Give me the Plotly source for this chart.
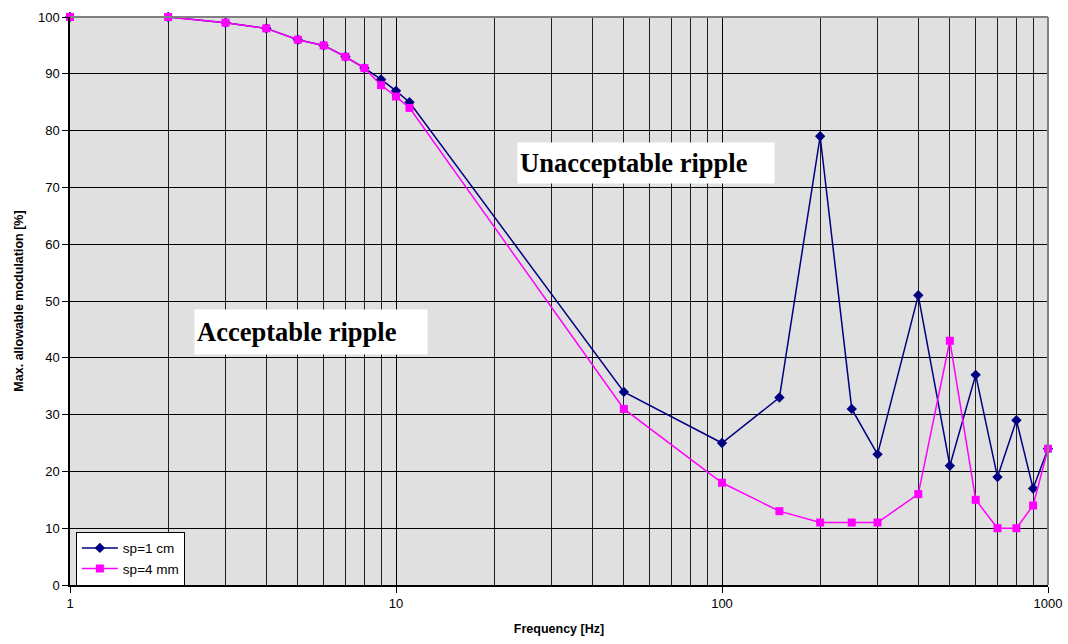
import plotly.graph_objects as go

# Frequency points [Hz]
freq = [1, 2, 3, 4, 5, 6, 7, 8, 9, 10, 11, 50, 100, 150, 200, 250, 300,
        400, 500, 600, 700, 800, 900, 1000]

# Maximum allowable modulation [%]
sp_1cm = [100, 100, 99, 98, 96, 95, 93, 91, 89, 87, 85, 34, 25, 33, 79, 31,
          23, 51, 21, 37, 19, 29, 17, 24]
sp_4mm = [100, 100, 99, 98, 96, 95, 93, 91, 88, 86, 84, 31, 18, 13, 11, 11,
          11, 16, 43, 15, 10, 10, 14, 24]

major_x = [1, 10, 100, 1000]
minor_x = [m * d for d in (1, 10, 100) for m in range(2, 10)]
y_ticks = list(range(0, 101, 10))

fig = go.Figure()
fig.add_trace(go.Scatter(
    x=freq, y=sp_1cm, name="sp=1 cm", mode="lines+markers",
    line=dict(color="#000080", width=1.5),
    marker=dict(symbol="diamond", size=8, color="#000080"),
    cliponaxis=False,
))
fig.add_trace(go.Scatter(
    x=freq, y=sp_4mm, name="sp=4 mm", mode="lines+markers",
    line=dict(color="#FF00FF", width=1.5),
    marker=dict(symbol="square", size=8, color="#FF00FF"),
    cliponaxis=False,
))

axis_font = dict(family="Liberation Sans, Arial", size=13, color="black")
title_font = dict(family="Liberation Sans, Arial", size=12.5, color="black")

fig.update_xaxes(
    type="log", range=[0, 3], automargin=False,
    tickvals=major_x, ticktext=[str(v) for v in major_x],
    ticks="outside", ticklen=6, tickcolor="black",
    showgrid=True, gridcolor="black", gridwidth=1,
    minor=dict(tickvals=minor_x, showgrid=True, gridcolor="#202020",
               gridwidth=1, ticks=""),
    showline=True, linecolor="black", linewidth=1.5,
    tickfont=axis_font, zeroline=False,
    title=dict(text="<b>Frequency [Hz]</b>", font=title_font, standoff=14),
)
fig.update_yaxes(
    range=[0, 100], tickvals=y_ticks, automargin=False,
    ticks="outside", ticklen=6, tickcolor="black",
    showgrid=True, gridcolor="black", gridwidth=1,
    showline=True, linecolor="black", linewidth=1.5,
    tickfont=axis_font, zeroline=False,
    title=dict(text="<b>Max. allowable modulation [%]</b>", font=title_font,
               standoff=12),
)

ann_font = dict(family="Liberation Serif, Times New Roman", size=26.5,
                color="black")
fig.add_annotation(
    text="<b>Acceptable ripple</b>", xref="paper", yref="paper",
    x=0.1268, y=0.4463, xanchor="left", yanchor="middle",
    showarrow=False, font=ann_font, bgcolor="white",
    width=228, height=40, align="left", borderpad=2,
)
fig.add_annotation(
    text="<b>Unacceptable ripple</b>", xref="paper", yref="paper",
    x=0.4571, y=0.7430, xanchor="left", yanchor="middle",
    showarrow=False, font=ann_font, bgcolor="white",
    width=252, height=36, align="left", borderpad=2,
)

# Grey frame on the top and right edges of the plot area
fig.add_shape(type="line", xref="paper", yref="paper", x0=0, x1=1, y0=1, y1=1,
              line=dict(color="#808080", width=2))
fig.add_shape(type="line", xref="paper", yref="paper", x0=1, x1=1, y0=0, y1=1,
              line=dict(color="#808080", width=2))

fig.update_layout(
    width=1068, height=644,
    margin=dict(l=70, r=20, t=17, b=59, autoexpand=False),
    paper_bgcolor="white", plot_bgcolor="#E0E0E0",
    showlegend=True,
    legend=dict(
        x=0.006, y=0.094, xanchor="left", yanchor="top",
        bgcolor="white", bordercolor="black", borderwidth=1,
        font=dict(family="Liberation Sans, Arial", size=13.5, color="black"),
        tracegroupgap=0, itemwidth=36,
    ),
)

fig.write_html("out.html")
